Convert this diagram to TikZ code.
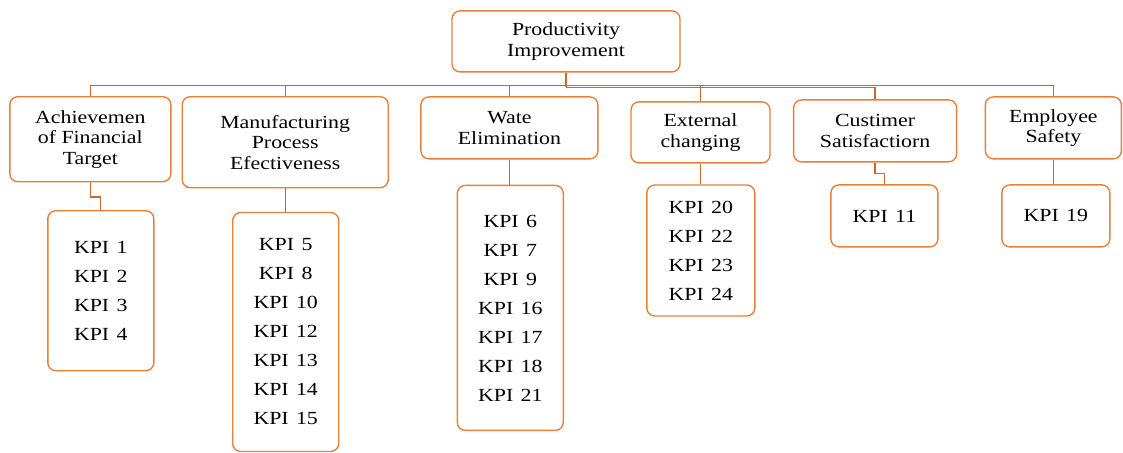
\documentclass[tikz,border=0pt]{standalone}
\usepackage{fontspec}
\setmainfont{Liberation Serif}[FakeStretch=1.18]
\definecolor{boxc}{HTML}{E8803A}
\definecolor{linec}{HTML}{C8692C}
\newcommand\kp[1]{KPI\hspace{0.4em}#1}
\begin{document}
\begin{tikzpicture}[x=1pt,y=-1pt,
  box/.style={draw=boxc,line width=1.4pt,rounded corners=8pt,inner sep=0pt,align=center,
    font=\fontsize{18.5}{20.5}\selectfont},
  kbox/.style={box,font=\fontsize{18.5}{29}\selectfont},
  conn/.style={draw=linec,line width=1.3pt}]
\useasboundingbox (0,0) rectangle (1123,452);
% level 0
\node[box,minimum width=228pt,minimum height=61pt] (root) at (566,41.4) {Productivity\\Improvement};
% level 1
\node[box,minimum width=161pt,minimum height=85pt] (A) at (90.3,139.2) {Achievemen\\of Financial\\Target};
\node[box,minimum width=206pt,minimum height=91pt] (M) at (285.2,142.2) {Manufacturing\\Process\\Efectiveness};
\node[box,minimum width=177pt,minimum height=62pt] (W) at (509.4,127.9) {Wate\\Elimination};
\node[box,minimum width=139pt,minimum height=61pt] (E) at (700.5,132.4) {External\\changing};
\node[box,minimum width=163pt,minimum height=62pt] (C) at (875.1,130.9) {Custimer\\Satisfactiorn};
\node[box,minimum width=136pt,minimum height=62pt] (S) at (1053.4,127.9) {Employee\\Safety};
% level 2
\node[kbox,minimum width=106pt,minimum height=160pt] (KA) at (100.8,290.7) {\kp{1}\\\kp{2}\\\kp{3}\\\kp{4}};
\node[kbox,minimum width=106pt,minimum height=239pt] (KM) at (285.7,332) {\kp{5}\\\kp{8}\\\kp{10}\\\kp{12}\\\kp{13}\\\kp{14}\\\kp{15}};
\node[kbox,minimum width=106pt,minimum height=245pt] (KW) at (510.3,307.9) {\kp{6}\\\kp{7}\\\kp{9}\\\kp{16}\\\kp{17}\\\kp{18}\\\kp{21}};
\node[kbox,minimum width=108pt,minimum height=131pt] (KE) at (700.8,250.5) {\kp{20}\\\kp{22}\\\kp{23}\\\kp{24}};
\node[kbox,minimum width=107pt,minimum height=62pt] (KC) at (884.4,215.9) {\kp{11}};
\node[kbox,minimum width=108pt,minimum height=62pt] (KS) at (1055.8,215.9) {\kp{19}};
% connectors root -> level 1
\draw[conn,line width=2.6pt] (root.south) -- ++(0,14);
\foreach \n in {A,M,W,E,S}{\draw[conn] (root.south) ++(0,13) -| (\n.north);}
\draw[conn] (root.south) ++(0,15) -| (C.north);
% level 1 -> level 2
\draw[conn] (A.south) -- ++(0,14.5) -| (KA.north);
\draw[conn] (M.south) -- (M.south |- KM.north);
\draw[conn] (W.south) -- (W.south |- KW.north);
\draw[conn] (E.south) -- (E.south |- KE.north);
\draw[conn] (C.south) -- ++(0,10.6) -| (KC.north);
\draw[conn] (S.south) -- (S.south |- KS.north);
\end{tikzpicture}
\end{document}
